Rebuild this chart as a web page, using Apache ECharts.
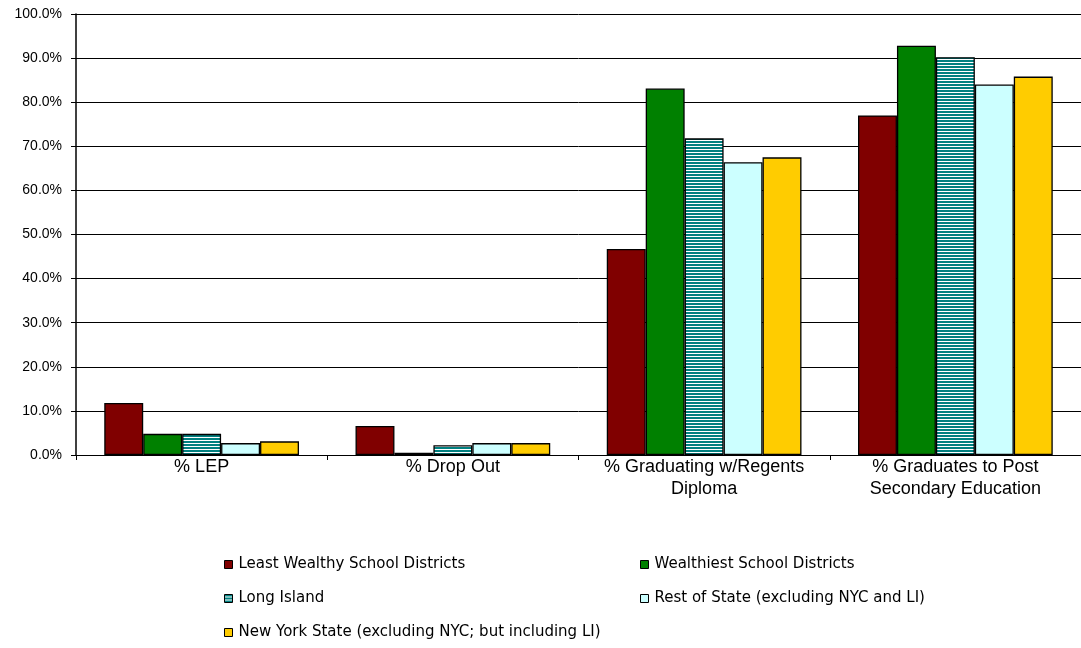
<!DOCTYPE html>
<html>
<head>
<meta charset="utf-8">
<script src="https://cdn.jsdelivr.net/npm/echarts@6/dist/echarts.min.js"></script>
<style>
  html, body { margin: 0; padding: 0; background: #fff; }
  #chart { width: 1081px; height: 648px; }
</style>
</head>
<body>
<div id="chart"></div>
<script>
// Category labels on the x axis
const categories = [
  '% LEP',
  '% Drop Out',
  '% Graduating w/Regents\nDiploma',
  '% Graduates to Post\nSecondary Education'
];

// Series values (percent)
const leastWealthy = [11.8, 6.6, 46.7, 77.0];
const wealthiest   = [4.8, 0.5, 83.1, 92.8];
const longIsland   = [4.8, 2.2, 71.8, 90.2];
const restOfState  = [2.7, 2.7, 66.4, 84.0];
const newYorkState = [3.1, 2.7, 67.5, 85.8];

const seriesNames = [
  'Least Wealthy School Districts',
  'Wealthiest School Districts',
  'Long Island',
  'Rest of State (excluding NYC and LI)',
  'New York State (excluding NYC; but including LI)'
];

// Horizontal stripe fill for the Long Island bars
function stripePattern() {
  const c = document.createElement('canvas');
  c.width = 4; c.height = 3;
  const ctx = c.getContext('2d');
  ctx.fillStyle = '#008080';
  ctx.fillRect(0, 0, 4, 3);
  ctx.fillStyle = '#ffffff';
  ctx.fillRect(0, 2, 4, 1);
  return c;
}

const fills = [
  '#800000',
  '#008000',
  { image: stripePattern(), repeat: 'repeat' },
  '#ccffff',
  '#ffcc00'
];
const values = [leastWealthy, wealthiest, longIsland, restOfState, newYorkState];

const chart = echarts.init(document.getElementById('chart'));
const font = 'Liberation Sans, Arial, sans-serif';
const legendFont = 'DejaVu Sans, Liberation Sans, sans-serif';

const series = seriesNames.map((name, i) => ({
  name,
  type: 'bar',
  data: values[i],
  barGap: '0%',
  barCategoryGap: '22.5%',
  itemStyle: { color: fills[i], borderColor: '#000', borderWidth: 1.3 },
  emphasis: { disabled: true },
  animation: false
}));

// Legend: two columns, three rows
const legendSlots = [
  { left: 224, top: 557 },
  { left: 640, top: 557 },
  { left: 224, top: 591 },
  { left: 640, top: 591 },
  { left: 224, top: 625 }
];
const legends = seriesNames.map((name, i) => ({
  data: [name],
  left: legendSlots[i].left,
  top: legendSlots[i].top,
  padding: 0,
  itemWidth: 8,
  itemHeight: 8,
  itemGap: 4,
  icon: 'rect',
  textStyle: { fontFamily: legendFont, fontSize: 15, color: '#000', padding: [0, 0, 0, 1] },
  itemStyle: { borderColor: '#000', borderWidth: 1 },
  selectedMode: false
}));

chart.setOption({
  animation: false,
  // plot area runs slightly past the right edge of the canvas
  grid: { left: 76, width: 1014, top: 14, bottom: 193, containLabel: false },
  legend: legends,
  xAxis: {
    type: 'category',
    data: categories,
    axisLine: { lineStyle: { color: '#000', width: 1 } },
    axisTick: { show: true, length: 5, lineStyle: { color: '#000' } },
    axisLabel: { interval: 0, fontFamily: font, fontSize: 18, color: '#000', lineHeight: 22, margin: 1 }
  },
  yAxis: {
    type: 'value',
    min: 0,
    max: 100,
    interval: 10,
    axisLine: { show: true, lineStyle: { color: '#000', width: 1.5 } },
    axisTick: { show: true, length: 5, lineStyle: { color: '#000' } },
    splitLine: { show: true, lineStyle: { color: '#000', width: 1 } },
    axisLabel: {
      fontFamily: font, fontSize: 14, color: '#000', margin: 14,
      formatter: v => v.toFixed(1) + '%'
    }
  },
  series
});
</script>
</body>
</html>
